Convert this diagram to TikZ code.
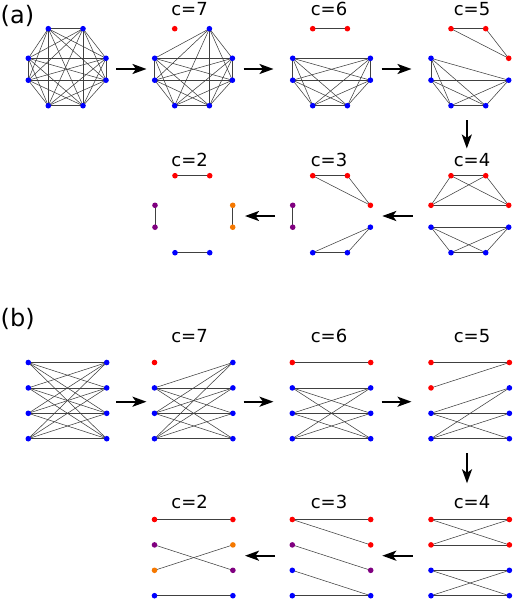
\documentclass[tikz,border=0pt]{standalone}
\usepackage{fontspec}
\setmainfont{DejaVu Sans}
\usetikzlibrary{arrows.meta}

\definecolor{vpurple}{RGB}{128,0,128}
\definecolor{vorange}{RGB}{245,120,0}

% octagon layout: #1 name, (#2,#3) left column / top row
\newcommand{\octlayout}[3]{%
  \coordinate (#1-1) at (#2+20,#3);
  \coordinate (#1-2) at (#2+54.7,#3);
  \coordinate (#1-3) at (#2+77.7,#3+29.6);
  \coordinate (#1-4) at (#2+77.7,#3+51.5);
  \coordinate (#1-5) at (#2+54.7,#3+77);
  \coordinate (#1-6) at (#2+20,#3+77);
  \coordinate (#1-7) at (#2,#3+51.5);
  \coordinate (#1-8) at (#2,#3+29.6);
}
% bipartite layout: two columns of four
\newcommand{\bilayout}[3]{%
  \foreach \i in {1,...,4} {
    \coordinate (#1-l\i) at (#2,#3+25.4*\i-25.4);
    \coordinate (#1-r\i) at (#2+78.4,#3+25.4*\i-25.4);
  }%
}
% every edge among the listed vertices
\newcommand{\clique}[2]{%
  \foreach \u [count=\a] in {#2} {
    \foreach \w [count=\b] in {#2} {
      \ifnum\a<\b\relax \draw[edge] (#1-\u) -- (#1-\w); \fi
    }
  }%
}
% coloured dots on top of the edges
\newcommand{\putdots}[2]{%
  \foreach \v/\c in {#2} \node[vtx=\c] (#1d\v) at (#1-\v) {};%
}

\begin{document}
\begin{tikzpicture}[x=1pt,y=-1pt,
  vtx/.style={circle,fill=#1,inner sep=0pt,minimum size=5.6pt},
  edge/.style={black!75,line width=0.55pt},
  flow/.style={-{Stealth[length=14pt,width=10pt,inset=3.5pt]},line width=2.2pt},
  clab/.style={anchor=base,inner sep=0pt,font=\fontsize{18}{18}\selectfont},
  plab/.style={anchor=base west,inner sep=0pt,font=\fontsize{24}{24}\selectfont}]
  \useasboundingbox (0,0) rectangle (515,602);

  % panel names
  \node[plab] (pa) at (0.5,24) {(a)};
  \node[plab] (pb) at (0.5,326) {(b)};

  % (a) octagon layouts
  \octlayout{A1}{28.3}{28.7}
  \octlayout{A2}{154.7}{28.7}
  \octlayout{A3}{292.7}{28.7}
  \octlayout{A4}{431}{28.7}
  \octlayout{A5}{431}{175.7}
  \octlayout{A6}{292.7}{175.7}
  \octlayout{A7}{155}{175.7}

  \clique{A1}{1,...,8}
  \clique{A2}{2,...,8}
  \clique{A3}{1,2} \clique{A3}{3,...,8}
  \clique{A4}{1,2,3} \clique{A4}{4,...,8}
  \clique{A5}{1,2,3,8} \clique{A5}{4,5,6,7}
  \clique{A6}{1,2,3} \clique{A6}{4,5,6} \clique{A6}{7,8}
  \clique{A7}{1,2} \clique{A7}{3,4} \clique{A7}{5,6} \clique{A7}{7,8}

  \putdots{A1}{1/blue,2/blue,3/blue,4/blue,5/blue,6/blue,7/blue,8/blue}
  \putdots{A2}{1/red,2/blue,3/blue,4/blue,5/blue,6/blue,7/blue,8/blue}
  \putdots{A3}{1/red,2/red,3/blue,4/blue,5/blue,6/blue,7/blue,8/blue}
  \putdots{A4}{1/red,2/red,3/red,4/blue,5/blue,6/blue,7/blue,8/blue}
  \putdots{A5}{1/red,2/red,3/red,8/red,4/blue,5/blue,6/blue,7/blue}
  \putdots{A6}{1/red,2/red,3/red,4/blue,5/blue,6/blue,7/vpurple,8/vpurple}
  \putdots{A7}{1/red,2/red,3/vorange,4/vorange,5/blue,6/blue,7/vpurple,8/vpurple}

  % (b) bipartite layouts
  \bilayout{B1}{28.3}{362.5}
  \bilayout{B2}{154.5}{362.5}
  \bilayout{B3}{292.3}{362.5}
  \bilayout{B4}{431}{362.5}
  \bilayout{B5}{431}{519.5}
  \bilayout{B6}{292.3}{519.5}
  \bilayout{B7}{154.5}{519.5}

  \foreach \i in {1,...,4} \foreach \j in {1,...,4} \draw[edge] (B1-l\i) -- (B1-r\j);
  \foreach \i in {2,3,4} \foreach \j in {1,...,4} \draw[edge] (B2-l\i) -- (B2-r\j);
  \draw[edge] (B3-l1) -- (B3-r1);
  \foreach \i in {2,3,4} \foreach \j in {2,3,4} \draw[edge] (B3-l\i) -- (B3-r\j);
  \foreach \i/\j in {1/1,2/1,3/2,3/3,3/4,4/2,4/3,4/4} \draw[edge] (B4-l\i) -- (B4-r\j);
  \foreach \i/\j in {1/1,1/2,2/1,2/2,3/3,3/4,4/3,4/4} \draw[edge] (B5-l\i) -- (B5-r\j);
  \foreach \i/\j in {1/1,1/2,2/3,3/4,4/4} \draw[edge] (B6-l\i) -- (B6-r\j);
  \foreach \i/\j in {1/1,2/3,3/2,4/4} \draw[edge] (B7-l\i) -- (B7-r\j);

  \putdots{B1}{l1/blue,l2/blue,l3/blue,l4/blue,r1/blue,r2/blue,r3/blue,r4/blue}
  \putdots{B2}{l1/red,l2/blue,l3/blue,l4/blue,r1/blue,r2/blue,r3/blue,r4/blue}
  \putdots{B3}{l1/red,l2/blue,l3/blue,l4/blue,r1/red,r2/blue,r3/blue,r4/blue}
  \putdots{B4}{l1/red,l2/red,l3/blue,l4/blue,r1/red,r2/blue,r3/blue,r4/blue}
  \putdots{B5}{l1/red,l2/red,l3/blue,l4/blue,r1/red,r2/red,r3/blue,r4/blue}
  \putdots{B6}{l1/red,l2/vpurple,l3/blue,l4/blue,r1/red,r2/red,r3/vpurple,r4/blue}
  \putdots{B7}{l1/red,l2/vpurple,l3/vorange,l4/blue,r1/red,r2/vorange,r3/vpurple,r4/blue}

  % colour counts
  \foreach \n/\x/\y/\t in {a7/189.5/15.7/7, a6/329/15.7/6, a5/472/15.7/5,
                           a4/472/166.7/4, a3/329/166.7/3, a2/189.7/166.7/2,
                           b7/189.5/342/7, b6/329/342/6, b5/472/342/5,
                           b4/472/508.3/4, b3/329/508.3/3, b2/189.7/508.3/2}
    \node[clab] (c\n) at (\x,\y) {c=\t};

  % arrows between the steps
  \foreach \n/\xa/\ya/\xb/\yb in {a1/116/69/146.5/69, a2/243.5/69/273.5/69,
      a3/381.5/69/411.5/69, a4/466.8/120/466.8/148.5,
      a5/412.7/216/382.3/216, a6/275/216/245/216,
      b1/116/401.7/146.5/401.7, b2/243.5/401.7/273.5/401.7,
      b3/381.5/401.7/411.5/401.7, b4/467/453.3/467/483.3,
      b5/412.7/555.7/382.3/555.7, b6/275/555.7/245/555.7} {
    \coordinate (\n s) at (\xa,\ya);
    \coordinate (\n e) at (\xb,\yb);
    \draw[flow] (\n s) -- (\n e);
  }
\end{tikzpicture}
\end{document}
